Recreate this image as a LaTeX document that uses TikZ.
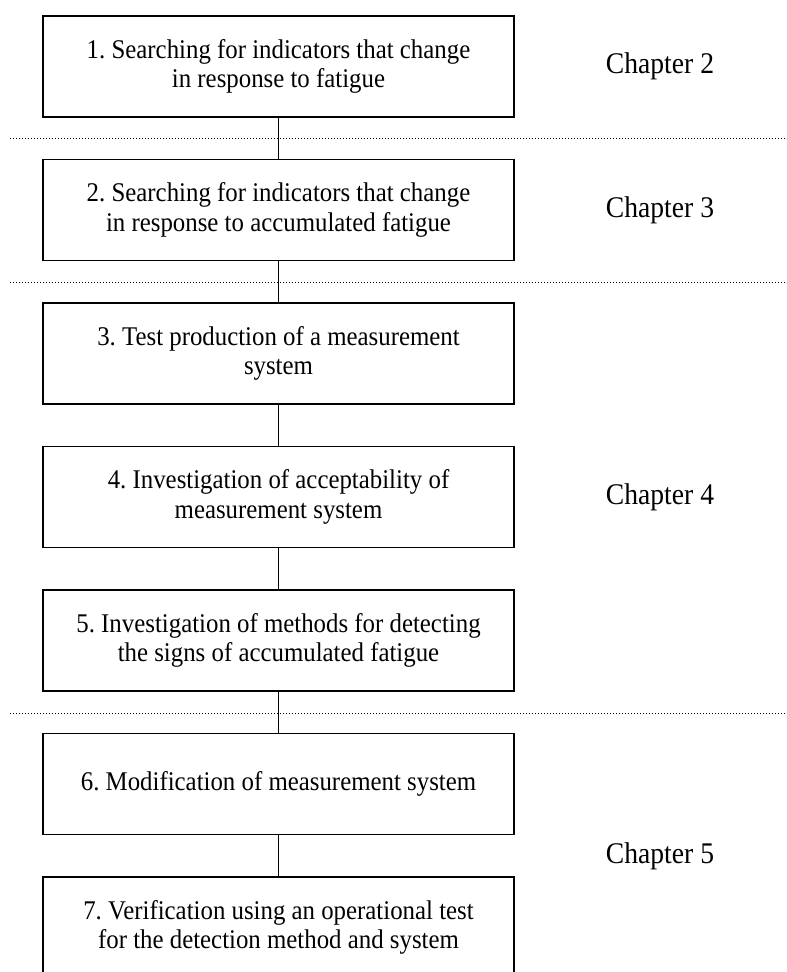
\documentclass[tikz,border=0pt]{standalone}
\usepackage{fontspec}
\setmainfont{Liberation Serif}[FakeStretch=0.92]
\begin{document}
\frenchspacing
\begin{tikzpicture}[x=1pt,y=-1pt,
  stage/.style={draw, line width=1.4pt, rectangle, minimum width=471pt,
    minimum height=101pt, align=center, inner sep=0pt,
    font=\fontsize{27}{29.5}\selectfont},
  chap/.style={font=\fontsize{30}{34}\selectfont, inner sep=0pt},
  link/.style={line width=1.4pt},
  divider/.style={line width=0.9pt, dash pattern=on 0.9pt off 2.1pt}]
\useasboundingbox (0,0) rectangle (787,972);

% chapter dividers
\coordinate (d1l) at (10,138.5);  \coordinate (d1r) at (787,138.5);
\coordinate (d2l) at (10,282);    \coordinate (d2r) at (787,282);
\coordinate (d3l) at (10,713.5);  \coordinate (d3r) at (787,713.5);
\draw[divider] (d1l) -- (d1r);
\draw[divider] (d2l) -- (d2r);
\draw[divider] (d3l) -- (d3r);

% research stages
\node[stage] (s1) at (278.5,66.5) {1. Searching for indicators that change\\in response to fatigue};
\node[stage] (s2) at (278.5,210) {2. Searching for indicators that change\\in response to accumulated fatigue};
\node[stage] (s3) at (278.5,353.5) {3. Test production of a measurement\\system};
\node[stage] (s4) at (278.5,497) {4. Investigation of acceptability of\\measurement system};
\node[stage] (s5) at (278.5,640.5) {5. Investigation of methods for detecting\\the signs of accumulated fatigue};
\node[stage] (s6) at (278.5,784) {6. Modification of measurement system};
\node[stage] (s7) at (278.5,927.5) {7. Verification using an operational test\\for the detection method and system};

% links between stages
\draw[link] (s1.south) -- (s2.north);
\draw[link] (s2.south) -- (s3.north);
\draw[link] (s3.south) -- (s4.north);
\draw[link] (s4.south) -- (s5.north);
\draw[link] (s5.south) -- (s6.north);
\draw[link] (s6.south) -- (s7.north);

% chapter labels
\node[chap] (c2) at (660,66.5) {Chapter 2};
\node[chap] (c3) at (660,210) {Chapter 3};
\node[chap] (c4) at (660,497) {Chapter 4};
\node[chap] (c5) at (660,856) {Chapter 5};
\end{tikzpicture}
\end{document}
